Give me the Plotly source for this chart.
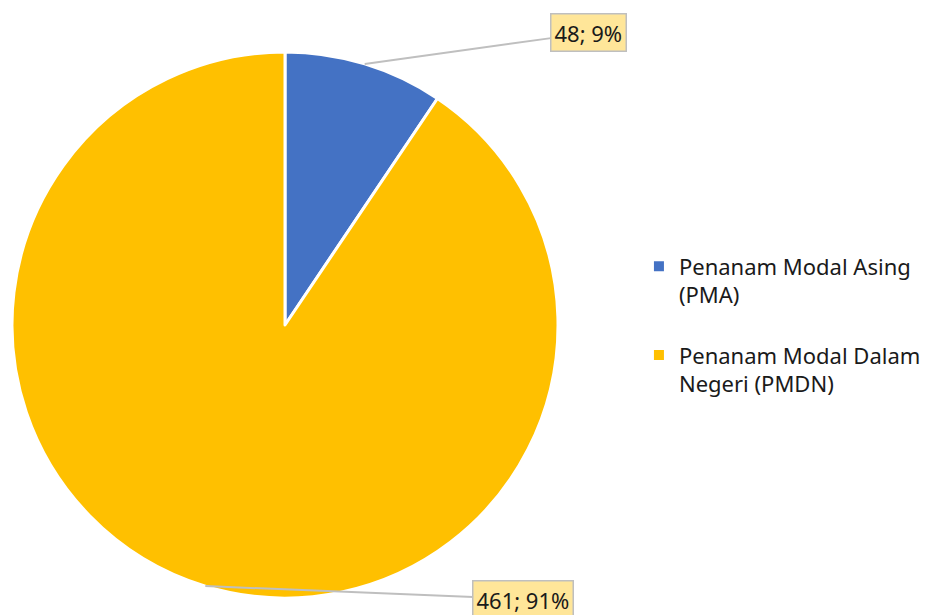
import math
import plotly.graph_objects as go

# Data
labels = ["Penanam Modal Asing<br>(PMA)", "Penanam Modal Dalam<br>Negeri (PMDN)"]
values = [48, 461]
colors = ["#4472C4", "#FFC000"]

W, H = 926, 615
cx, cy, r = 285, 325, 273  # pie center / radius in pixels

# petit espace sous chaque entrée de légende
spacer = "<br><span style='font-size:10px'> </span>"

fig = go.Figure(go.Pie(
    labels=[l + spacer for l in labels],
    values=values,
    marker=dict(colors=colors, line=dict(color="white", width=3)),
    sort=False,
    direction="clockwise",
    rotation=0,
    textinfo="none",
    hoverinfo="value+percent",
    domain=dict(x=[(cx - r) / W, (cx + r) / W], y=[1 - (cy + r) / H, 1 - (cy - r) / H]),
))

# Callout labels pointing at the middle of each slice
total = sum(values)
offsets = [(224, -31), (318, 13)]
start = 0
for v, (ax, ay) in zip(values, offsets):
    mid = (start + v / 2) / total * 2 * math.pi
    start += v
    px = cx + r * math.sin(mid)
    py = cy - r * math.cos(mid)
    fig.add_annotation(
        x=px / W, y=1 - py / H, xref="paper", yref="paper",
        ax=ax, ay=ay,
        text=f"{v}; {round(v / total * 100)}%",
        showarrow=True, arrowhead=0, arrowwidth=2, arrowcolor="#BFBFBF",
        bgcolor="#FFE699", bordercolor="#BFBFBF", borderwidth=1.5, borderpad=3,
        font=dict(size=22, color="#1a1a1a", family="Noto Sans"),
    )

fig.update_layout(
    width=W, height=H,
    margin=dict(l=0, r=0, t=0, b=0),
    paper_bgcolor="white",
    font=dict(family="Noto Sans", color="#262626"),
    legend=dict(
        x=0.69, y=0.601, xanchor="left", yanchor="top",
        font=dict(size=22, color="#1a1a1a"),
        itemsizing="constant",
        valign="top",
    ),
)

fig.write_html("out.html", config={"displayModeBar": False},
               post_script="document.body.style.margin='0';")
